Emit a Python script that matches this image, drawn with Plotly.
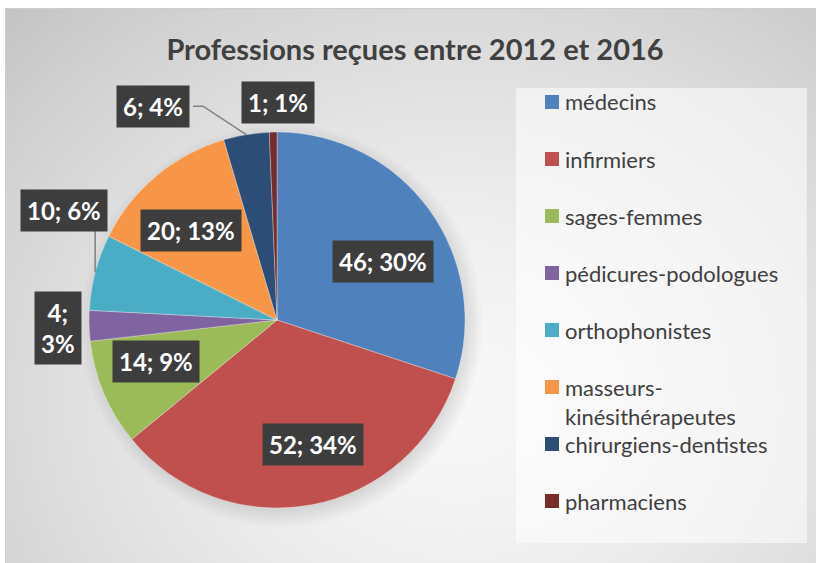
import math, zlib, struct, base64
import numpy as np
import plotly.graph_objects as go

# ---------------- data ----------------
categories = ["médecins", "infirmiers", "sages-femmes", "pédicures-podologues",
              "orthophonistes", "masseurs-kinésithérapeutes", "chirurgiens-dentistes",
              "pharmaciens"]
legend_labels = ["médecins", "infirmiers", "sages-femmes", "pédicures-podologues",
                 "orthophonistes", "masseurs-<br>kinésithérapeutes", "chirurgiens-dentistes",
                 "pharmaciens"]
values = [46, 52, 14, 4, 10, 20, 6, 1]
percent_labels = [30, 34, 9, 3, 6, 13, 4, 1]
title_text = "Professions reçues entre 2012 et 2016"

# ---------------- style ----------------
colors = ["#4F81BD", "#C0504D", "#9BBB59", "#8064A2", "#4BACC6", "#F79646",
          "#2C4D75", "#772C2A"]
W, H = 816, 563
CX, CY, R = 277, 320, 188           # pie centre / radius in px
FONT = "Lato"
TEXT_COL = "#404040"
# label placement: (radius factor, angle shift in deg) relative to slice mid angle
label_place = [(0.643, 7.2), (0.687, -5.6), (0.68, 3.8), (1.165, -0.3),
               (1.275, 12.6), (0.662, -3.7), (1.315, -20.7), (1.155, 1.5)]
label_sep = ["; ", "; ", "; ", ";<br>", "; ", "; ", "; ", "; "]
leaders = {4: "vertical", 6: "elbow"}

def px(x, y):
    return x / W, 1 - y / H

def polar(theta, rf):
    t = math.radians(theta)
    return CX + rf * R * math.sin(t), CY - rf * R * math.cos(t)

# ---------------- background image (gradient + pie shadow) ----------------
yy, xx = np.mgrid[0:H, 0:W].astype(float)
d = np.sqrt(((xx - 460) / 560) ** 2 + ((yy - 400) / 480) ** 2)
val = 248 - 42 * d ** 1.5
dc = np.sqrt((xx - (CX + 4)) ** 2 + (yy - (CY + 5)) ** 2)
shadow = np.clip((R + 14 - dc) / 22, 0, 1)
val = val * (1 - 0.13 * shadow)
val[(yy < 8) | (xx < 5)] = 255
val[(yy == 8) & (xx >= 5)] = 205
val[(xx == 5) & (yy >= 8)] = 205
img = np.clip(val, 0, 255).astype(np.uint8)

def png_gray(arr):
    h, w = arr.shape
    raw = b"".join(b"\x00" + arr[i].tobytes() for i in range(h))
    def chunk(t, dd):
        return struct.pack(">I", len(dd)) + t + dd + struct.pack(">I", zlib.crc32(t + dd) & 0xffffffff)
    return (b"\x89PNG\r\n\x1a\n" + chunk(b"IHDR", struct.pack(">IIBBBBB", w, h, 8, 0, 0, 0, 0))
            + chunk(b"IDAT", zlib.compress(raw, 9)) + chunk(b"IEND", b""))

bg_src = "data:image/png;base64," + base64.b64encode(png_gray(img)).decode()

# ---------------- figure ----------------
x0, y1 = px(CX - R, CY - R)
x1, y0 = px(CX + R, CY + R)

fig = go.Figure(go.Pie(
    labels=categories, values=values, sort=False, direction="clockwise", rotation=0,
    marker=dict(colors=colors, line=dict(color="rgba(255,255,255,0.45)", width=0.7)),
    textinfo="none", showlegend=False, domain=dict(x=[x0, x1], y=[y0, y1]),
))

total = sum(values)
cum = 0
annotations = []
shapes = []
for i, v in enumerate(values):
    mid = (cum + v / 2) / total * 360
    cum += v
    rf, shift = label_place[i]
    lx, ly = polar(mid + shift, rf)
    ax_, ay_ = px(lx, ly)
    annotations.append(dict(
        x=ax_, y=ay_, xref="paper", yref="paper", showarrow=False,
        text=f"<b>{v}{label_sep[i]}{percent_labels[i]}%</b>",
        font=dict(family=FONT, size=24, color="white"),
        bgcolor="#3d3d3d", borderpad=6, xanchor="center", yanchor="middle"))
    if i in leaders:
        ex, ey = polar(mid, 1.0)
        if leaders[i] == "vertical":
            pts = [(ex, ey), (ex, ly + 21)]
        else:
            pts = [(ex, ey), (lx + 50, ly), (lx + 40, ly)]
        path = "M " + " L ".join(f"{px(a, b)[0]},{px(a, b)[1]}" for a, b in pts)
        shapes.append(dict(type="path", path=path, xref="paper", yref="paper",
                           line=dict(color="#808080", width=1.5), layer="above"))

# legend box
lb0 = px(516, 88); lb1 = px(807, 543)
shapes.append(dict(type="rect", xref="paper", yref="paper", x0=lb0[0], y0=lb1[1],
                   x1=lb1[0], y1=lb0[1], fillcolor="rgba(255,255,255,0.55)",
                   line=dict(width=0), layer="below"))
LEG_Y0, LEG_STEP = 102, 57
for i, lab in enumerate(legend_labels):
    yc = LEG_Y0 + LEG_STEP * i
    a = px(545, yc - 7); b = px(559, yc + 7)
    shapes.append(dict(type="rect", xref="paper", yref="paper", x0=a[0], x1=b[0],
                       y0=b[1], y1=a[1], fillcolor=colors[i], line=dict(width=0),
                       layer="above"))
    multi = "<br>" in lab
    tx, ty = px(563, yc - 15 if multi else yc)
    annotations.append(dict(x=tx, y=ty, xref="paper", yref="paper", showarrow=False,
                            text=lab, align="left", xanchor="left",
                            yanchor="top" if multi else "middle",
                            font=dict(family=FONT, size=22, color=TEXT_COL)))

fig.update_layout(
    width=W, height=H, margin=dict(l=0, r=0, t=0, b=0),
    paper_bgcolor="white", plot_bgcolor="rgba(0,0,0,0)",
    images=[dict(source=bg_src, xref="paper", yref="paper", x=0, y=1, sizex=1, sizey=1,
                 sizing="stretch", xanchor="left", yanchor="top", layer="below")],
    title=dict(text=f"<b>{title_text}</b>", x=415 / W, y=1 - 50 / H, xref="paper",
               yref="paper", xanchor="center", yanchor="middle",
               font=dict(family=FONT, size=29, color=TEXT_COL)),
    annotations=annotations, shapes=shapes,
)

fig.write_html("out.html")
